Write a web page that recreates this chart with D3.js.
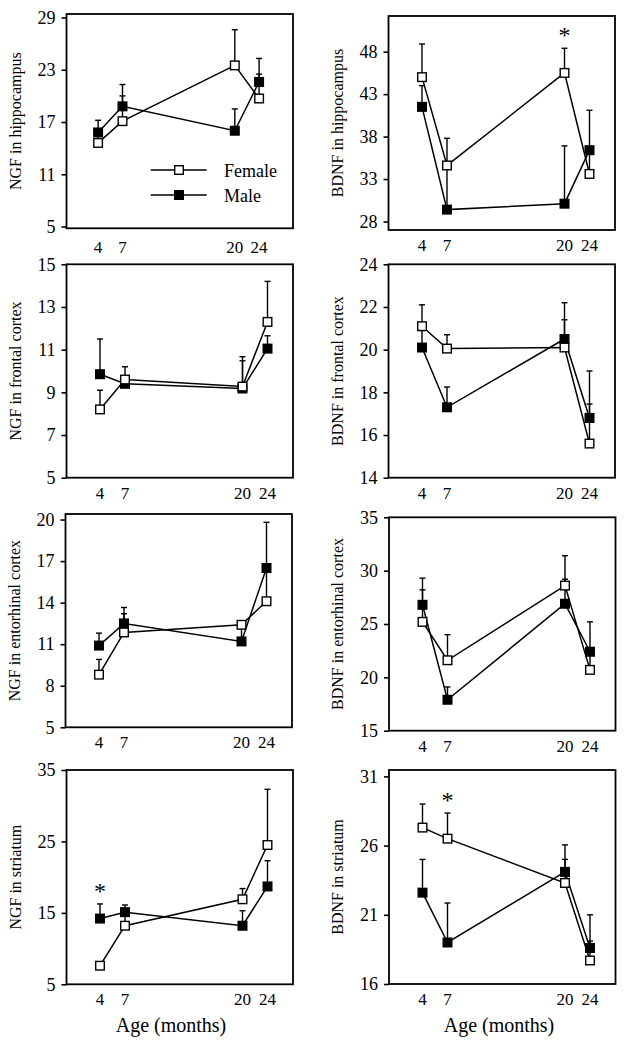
<!DOCTYPE html>
<html><head><meta charset="utf-8">
<script src="https://cdn.jsdelivr.net/npm/d3@7"></script>
<style>
body{margin:0;background:#fff}
svg{display:block}
text{font-family:"Liberation Serif","Times New Roman",serif;fill:#000}
</style>
</head><body>
<svg id="chart" width="630" height="1050"></svg>
<script>
// ---------- data ----------
const ages = [4, 7, 20, 24];
const ageLabels = ["4", "7", "20", "24"];
const seriesNames = ["Female", "Male"];
const xAxisTitle = "Age (months)";

const titles = ["NGF in hippocampus", "BDNF in hippocampus",
  "NGF in frontal cortex", "BDNF in frontal cortex",
  "NGF in entorhinal cortex", "BDNF in entorhinal cortex",
  "NGF in striatum", "BDNF in striatum"];

const ngfHippoFemale = [14.6, 17.1, 23.5, 19.7];
const ngfHippoFemaleErr = [0.8, 2.9, 4.1, 2.8];
const ngfHippoMale = [15.8, 18.8, 16.0, 21.6];
const ngfHippoMaleErr = [1.4, 2.5, 2.5, 2.7];
const ngfHippoTicks = [5, 11, 17, 23, 29];

const bdnfHippoFemale = [45.0, 34.6, 45.5, 33.6];
const bdnfHippoFemaleErr = [3.9, 3.2, 2.9, 2.5];
const bdnfHippoMale = [41.5, 29.4, 30.1, 36.4];
const bdnfHippoMaleErr = [2.5, 4.8, 6.8, 4.7];
const bdnfHippoTicks = [28, 33, 38, 43, 48];

const ngfFrontFemale = [8.2, 9.6, 9.27, 12.3];
const ngfFrontFemaleErr = [0.9, 0.6, 1.4, 1.9];
const ngfFrontMale = [9.85, 9.4, 9.18, 11.05];
const ngfFrontMaleErr = [1.65, 0.2, 1.3, 0.6];
const ngfFrontTicks = [5, 7, 9, 11, 13, 15];

const bdnfFrontFemale = [21.1, 20.05, 20.1, 15.6];
const bdnfFrontFemaleErr = [1.0, 0.65, 2.1, 1.85];
const bdnfFrontMale = [20.1, 17.3, 20.5, 16.8];
const bdnfFrontMaleErr = [0.8, 0.95, 0.9, 2.2];
const bdnfFrontTicks = [14, 16, 18, 20, 22, 24];

const ngfEntoFemale = [8.8, 11.85, 12.4, 14.1];
const ngfEntoFemaleErr = [1.1, 1.35, 0.3, 2.3];
const ngfEntoMale = [10.9, 12.5, 11.2, 16.5];
const ngfEntoMaleErr = [0.9, 1.15, 1.0, 3.3];
const ngfEntoTicks = [5, 8, 11, 14, 17, 20];

const bdnfEntoFemale = [25.2, 21.6, 28.6, 20.7];
const bdnfEntoFemaleErr = [3.0, 2.4, 2.8, 1.5];
const bdnfEntoMale = [26.8, 17.9, 26.9, 22.4];
const bdnfEntoMaleErr = [2.5, 1.2, 2.3, 2.8];
const bdnfEntoTicks = [15, 20, 25, 30, 35];

const ngfStriFemale = [7.6, 13.2, 16.9, 24.5];
const ngfStriFemaleErr = [0.3, 1.6, 1.5, 7.8];
const ngfStriMale = [14.2, 15.1, 13.2, 18.7];
const ngfStriMaleErr = [2.05, 1.0, 2.1, 3.6];
const ngfStriTicks = [5, 15, 25, 35];

const bdnfStriFemale = [27.3, 26.5, 23.3, 17.7];
const bdnfStriFemaleErr = [1.7, 1.85, 1.7, 1.4];
const bdnfStriMale = [22.6, 19.0, 24.1, 18.6];
const bdnfStriMaleErr = [2.4, 2.85, 1.95, 2.4];
const bdnfStriTicks = [16, 21, 26, 31];

// significance markers: panel index, age index
const sigPanels = [1, 6, 7];
const sigAgeIdx = [2, 0, 1];

// ---------- layout ----------
const W = 226.5;
const xOffDefault = [33.5, 58.5, 176, 201];
const layout = [
  {x: 66.5, y: 14, h: 214.3, dom: [4.8, 29.4], xo: [31.6, 56, 168.3, 192.6], lab: 25},
  {x: 388.5, y: 16, h: 214, dom: [27, 52.2]},
  {x: 66.5, y: 264.3, h: 213.4, dom: [5, 15]},
  {x: 388.5, y: 264.3, h: 213.4, dom: [14, 24]},
  {x: 65.5, y: 514, h: 213.3, dom: [5, 20.4]},
  {x: 389, y: 517.3, h: 213.4, dom: [15, 35]},
  {x: 66.5, y: 770, h: 214.3, dom: [5, 35]},
  {x: 389, y: 770, h: 214, dom: [16, 31.46]}
];

const panels = [
  [ngfHippoFemale, ngfHippoFemaleErr, ngfHippoMale, ngfHippoMaleErr, ngfHippoTicks],
  [bdnfHippoFemale, bdnfHippoFemaleErr, bdnfHippoMale, bdnfHippoMaleErr, bdnfHippoTicks],
  [ngfFrontFemale, ngfFrontFemaleErr, ngfFrontMale, ngfFrontMaleErr, ngfFrontTicks],
  [bdnfFrontFemale, bdnfFrontFemaleErr, bdnfFrontMale, bdnfFrontMaleErr, bdnfFrontTicks],
  [ngfEntoFemale, ngfEntoFemaleErr, ngfEntoMale, ngfEntoMaleErr, ngfEntoTicks],
  [bdnfEntoFemale, bdnfEntoFemaleErr, bdnfEntoMale, bdnfEntoMaleErr, bdnfEntoTicks],
  [ngfStriFemale, ngfStriFemaleErr, ngfStriMale, ngfStriMaleErr, ngfStriTicks],
  [bdnfStriFemale, bdnfStriFemaleErr, bdnfStriMale, bdnfStriMaleErr, bdnfStriTicks]
];

const svg = d3.select("#chart");
const MS = 8.6;   // marker size
const CAP = 3;    // half cap width

panels.forEach((p, i) => {
  const L = layout[i];
  const [fem, femErr, mal, malErr, ticks] = p;
  const xo = L.xo || xOffDefault;
  const x = d3.scaleLinear().domain(ages).range(xo);
  const y = d3.scaleLinear().domain(L.dom).range([L.h, 0]);
  const g = svg.append("g").attr("transform", `translate(${L.x},${L.y})`);

  // axis
  const ax = g.append("g").call(d3.axisLeft(y).tickValues(ticks).tickSize(5).tickPadding(6).tickFormat(d3.format("d")));
  ax.select(".domain").remove();
  ax.selectAll("line").attr("stroke", "#000").attr("stroke-width", 1.6);
  ax.selectAll("text").attr("font-size", 18).attr("font-family", '"Liberation Serif", serif');

  // frame
  g.append("rect").attr("width", W).attr("height", L.h)
    .attr("fill", "none").attr("stroke", "#000").attr("stroke-width", 1.8);

  // x labels
  g.selectAll("text.xl").data(ageLabels).join("text").attr("class", "xl")
    .attr("x", (d, k) => x(ages[k])).attr("y", L.h + (L.lab || 21))
    .attr("text-anchor", "middle").attr("font-size", 17).text(d => d);

  // y title
  g.append("text").attr("transform", `translate(${-46},${L.h / 2}) rotate(-90)`)
    .attr("text-anchor", "middle").attr("font-size", 16).text(titles[i]);

  const series = [
    {vals: mal, err: malErr, fill: "#000"},
    {vals: fem, err: femErr, fill: "#fff"}
  ];
  // error bars
  series.forEach(s => {
    const eg = g.append("g").attr("stroke", "#000").attr("stroke-width", 1.4);
    s.vals.forEach((v, k) => {
      const cx = x(ages[k]), top = y(v + s.err[k]);
      eg.append("line").attr("x1", cx).attr("x2", cx).attr("y1", y(v)).attr("y2", top);
      eg.append("line").attr("x1", cx - CAP).attr("x2", cx + CAP).attr("y1", top).attr("y2", top);
    });
  });
  // lines
  const line = d3.line().x((d, k) => x(ages[k])).y(d => y(d));
  series.forEach(s => {
    g.append("path").datum(s.vals).attr("d", line)
      .attr("fill", "none").attr("stroke", "#000").attr("stroke-width", 1.5);
  });
  // markers
  series.forEach(s => {
    g.selectAll(null).data(s.vals).join("rect")
      .attr("x", (d, k) => x(ages[k]) - MS / 2).attr("y", d => y(d) - MS / 2)
      .attr("width", MS).attr("height", MS)
      .attr("fill", s.fill).attr("stroke", "#000").attr("stroke-width", 1.4);
  });

  // significance asterisks
  sigPanels.forEach((sp, j) => {
    if (sp !== i) return;
    const k = sigAgeIdx[j];
    const top = Math.min(y(fem[k] + femErr[k]), y(mal[k] + malErr[k]));
    g.append("text").attr("x", x(ages[k])).attr("y", top - 5)
      .attr("text-anchor", "middle").attr("font-size", 24).text("*");
  });

  // legend in first panel
  if (i === 0) {
    const lg = g.append("g");
    [{fill: "#fff"}, {fill: "#000"}].forEach((s, k) => {
      const ly = 156 + k * 25;
      lg.append("line").attr("x1", 84.2).attr("x2", 140.2).attr("y1", ly).attr("y2", ly)
        .attr("stroke", "#000").attr("stroke-width", 1.5);
      lg.append("rect").attr("x", 112.5 - MS / 2).attr("y", ly - MS / 2).attr("width", MS).attr("height", MS)
        .attr("fill", s.fill).attr("stroke", "#000").attr("stroke-width", 1.4);
      lg.append("text").attr("x", 157.5).attr("y", ly + 6.5).attr("font-size", 18).text(seriesNames[k]);
    });
  }
});

// x-axis titles
svg.append("text").attr("x", 171).attr("y", 1031.5).attr("text-anchor", "middle")
  .attr("font-size", 20).text(xAxisTitle);
svg.append("text").attr("x", 499).attr("y", 1031.5).attr("text-anchor", "middle")
  .attr("font-size", 20).text(xAxisTitle);
</script>
</body></html>
